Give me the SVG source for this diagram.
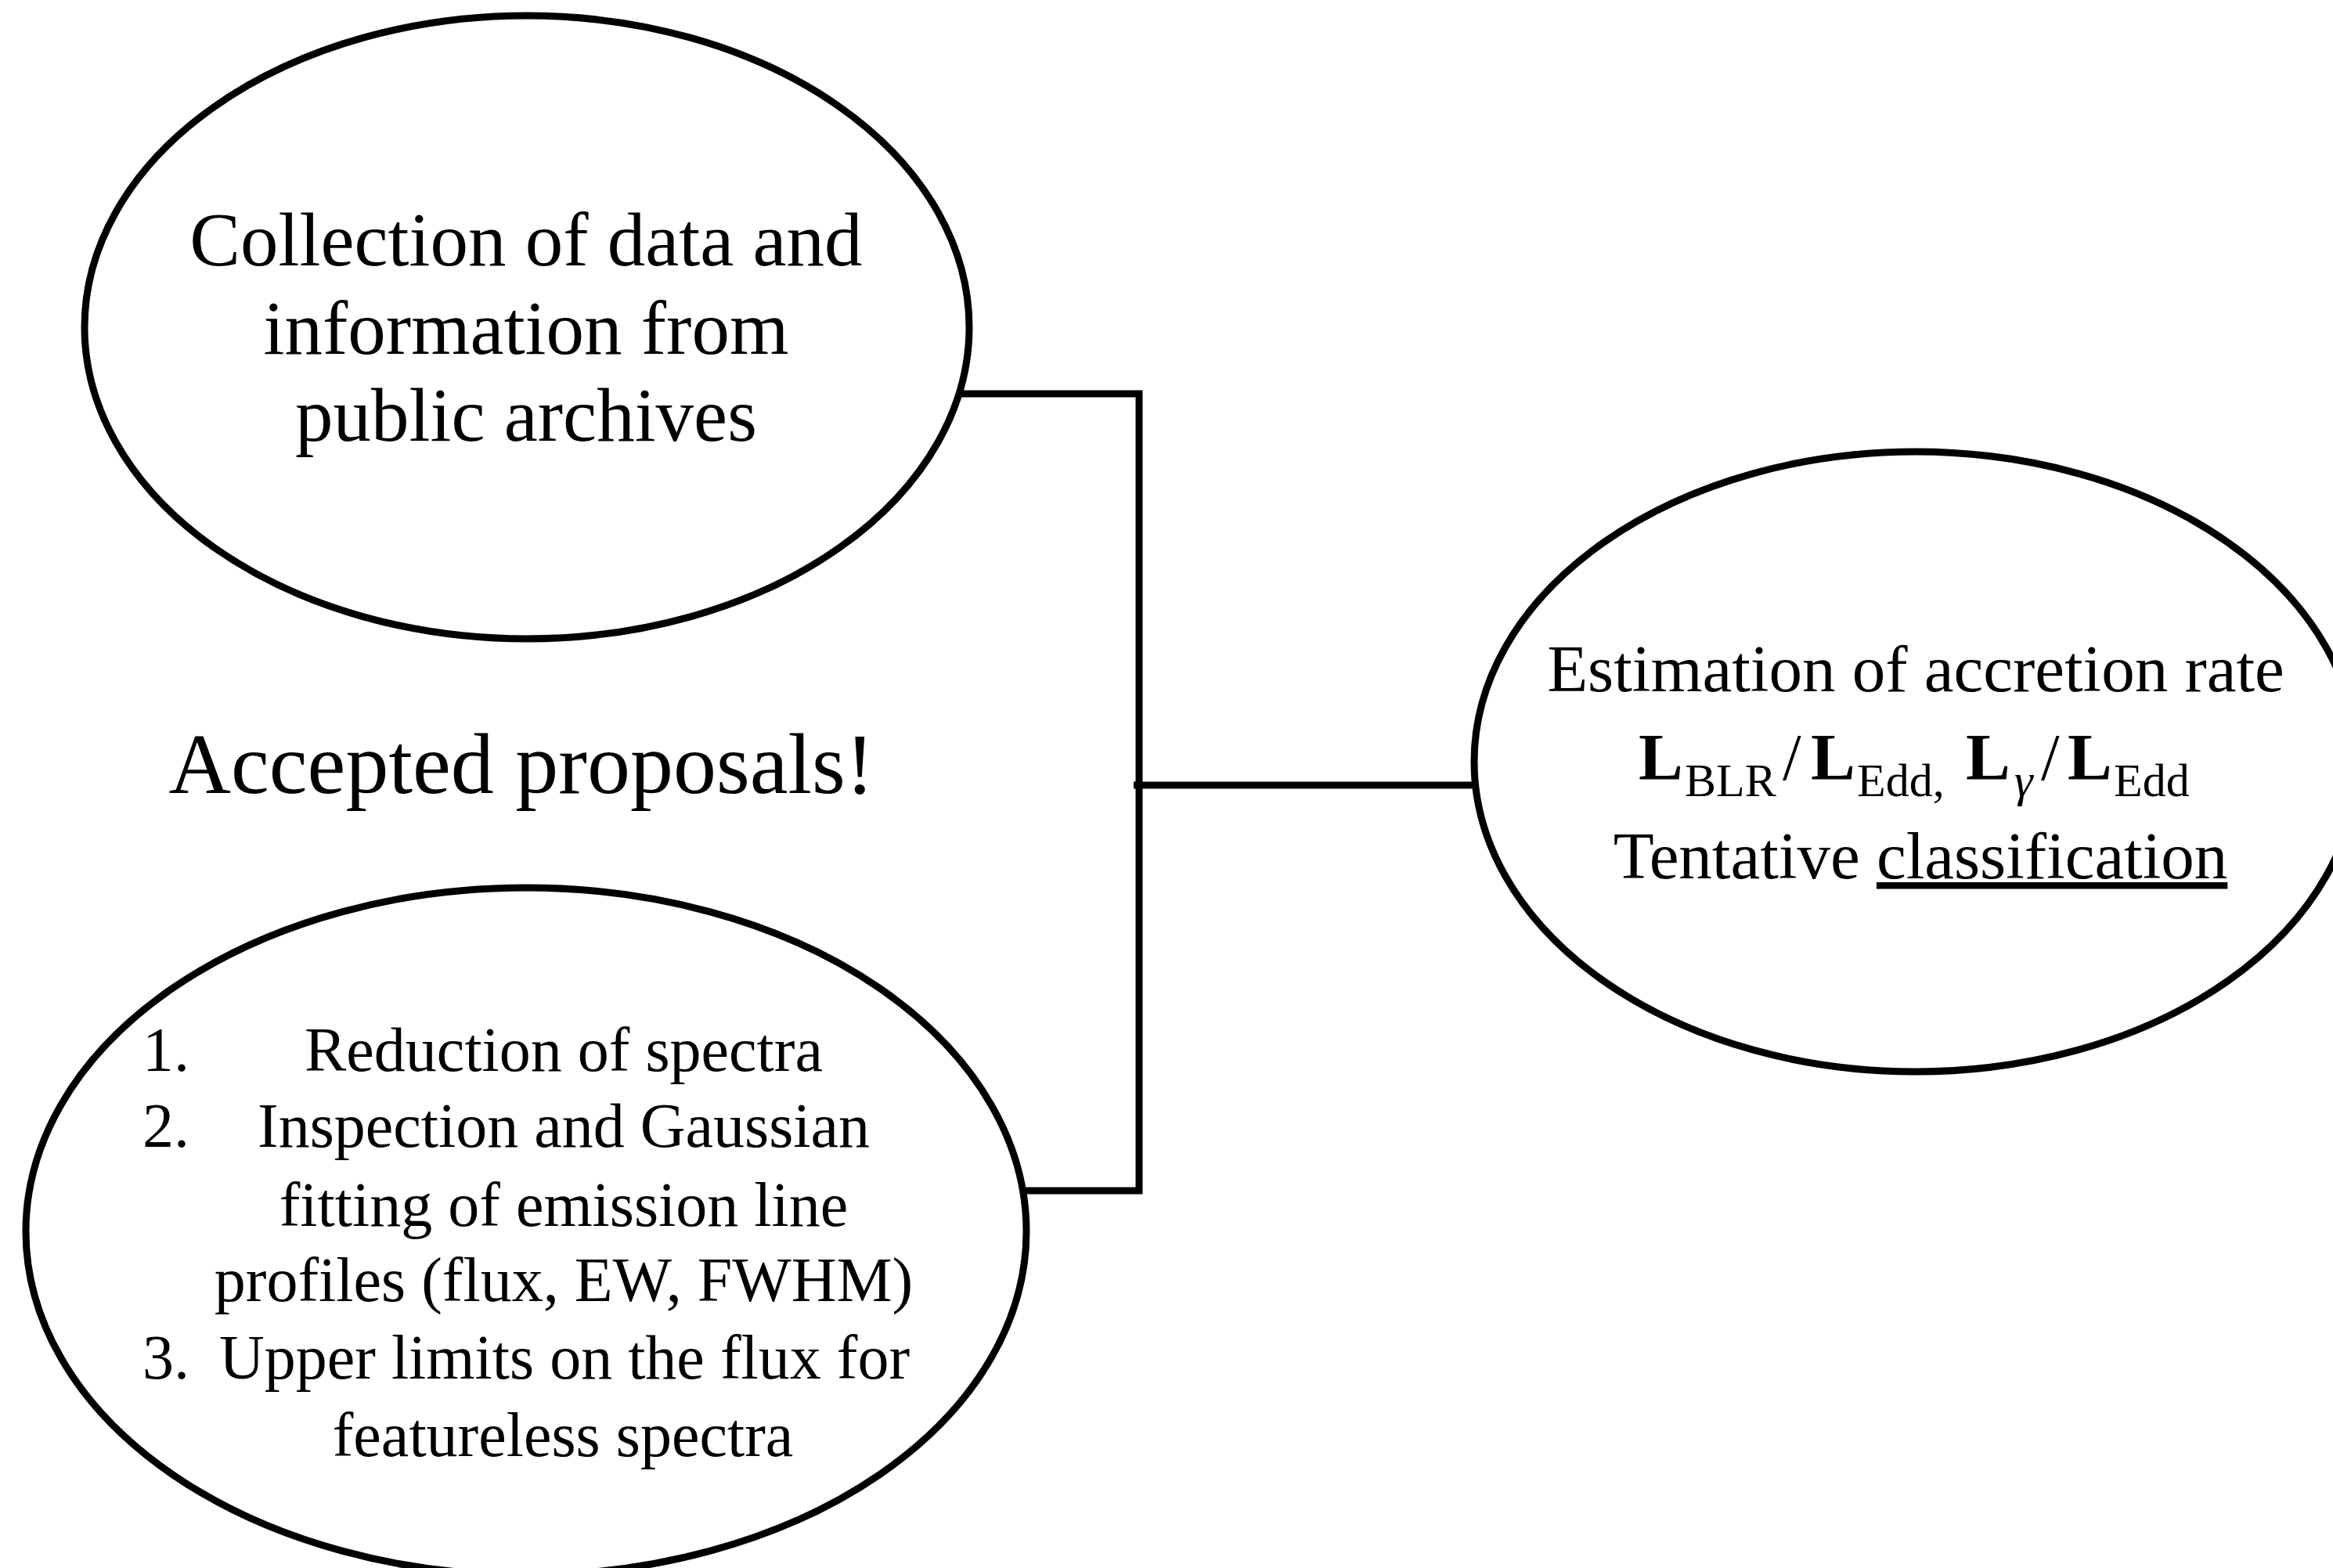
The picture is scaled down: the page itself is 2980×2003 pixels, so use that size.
<svg xmlns="http://www.w3.org/2000/svg" width="2980" height="2003" viewBox="0 0 2980 2003">
<style>
.node{fill:none;stroke:#000;stroke-width:9}
.conn{fill:none;stroke:#000;stroke-width:9;stroke-linecap:butt;stroke-linejoin:miter}
text{font-family:"Liberation Serif","Times New Roman",serif;fill:#000}
.t1{font-size:97px;text-anchor:middle}
.t2{font-size:80px}
.t3{font-size:85px;text-anchor:middle}
.big{font-size:110px;text-anchor:middle}
.b{font-weight:bold}
.sub{font-size:60px}
</style>
<rect width="2980" height="2003" fill="#fff"/>
<g id="connectors">
<polyline class="conn" points="1225,503 1455,503 1455,1521 1308,1521"/>
<line class="conn" x1="1448" y1="1003" x2="1884" y2="1003"/>
</g>
<g id="node-collection">
<ellipse class="node" cx="673" cy="418" rx="565" ry="398"/>
<text class="t1" x="672" y="339">Collection of data and</text>
<text class="t1" x="672" y="452">information from</text>
<text class="t1" x="672" y="563">public archives</text>
</g>
<g id="label-accepted">
<text class="big" x="666" y="1013">Accepted proposals!</text>
</g>
<g id="node-reduction">
<ellipse class="node" cx="672" cy="1573" rx="639" ry="439"/>
<text class="t2" x="182" y="1368">1.</text>
<text class="t2" x="720" y="1368" text-anchor="middle">Reduction of spectra</text>
<text class="t2" x="182" y="1465">2.</text>
<text class="t2" x="720" y="1465" text-anchor="middle">Inspection and Gaussian</text>
<text class="t2" x="720" y="1566" text-anchor="middle">fitting of emission line</text>
<text class="t2" x="720" y="1662" text-anchor="middle">profiles (flux, EW, FWHM)</text>
<text class="t2" x="182" y="1761">3.</text>
<text class="t2" x="721" y="1761" text-anchor="middle">Upper limits on the flux for</text>
<text class="t2" x="719" y="1860" text-anchor="middle">featureless spectra</text>
</g>
<g id="node-estimation">
<ellipse class="node" cx="2447" cy="973" rx="564" ry="396"/>
<text class="t3" x="2447" y="883">Estimation of accretion rate</text>
<text font-size="85" y="996"><tspan class="b" x="2093">L</tspan><tspan class="sub" x="2152" dy="21">BLR</tspan><tspan x="2277" dy="-21">/</tspan><tspan class="b" x="2313">L</tspan><tspan class="sub" x="2372" dy="21">Edd,</tspan><tspan class="b" x="2511" dy="-21">L</tspan><tspan class="sub" font-style="italic" x="2573" dy="21">γ</tspan><tspan x="2607" dy="-21">/</tspan><tspan class="b" x="2641">L</tspan><tspan class="sub" x="2700" dy="21">Edd</tspan></text>
<text class="t3" x="2453" y="1122">Tentative <tspan text-decoration="underline">classification</tspan></text>
</g>
</svg>
